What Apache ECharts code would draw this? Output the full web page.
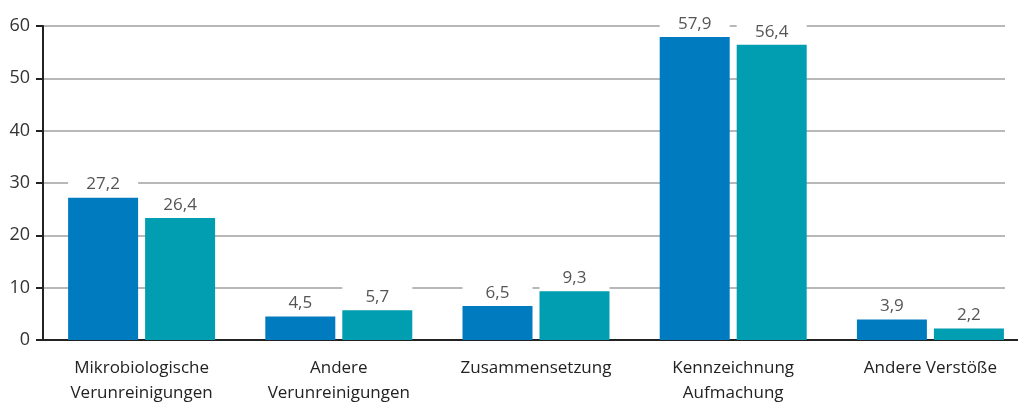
<!DOCTYPE html>
<html>
<head>
<meta charset="utf-8">
<script src="https://cdn.jsdelivr.net/npm/echarts@6/dist/echarts.min.js"></script>
<style>
  html, body { margin: 0; padding: 0; background: #fff; }
  #chart { width: 1018px; height: 403px; }
</style>
</head>
<body>
<div id="chart"></div>
<script>
// Kategorien und Werte
var categories = ['Mikrobiologische\nVerunreinigungen', 'Andere\nVerunreinigungen', 'Zusammensetzung', 'Kennzeichnung\nAufmachung', 'Andere Verstöße'];
// Balkenhöhen wie im Bild gezeichnet
var valuesA = [27.2, 4.5, 6.5, 57.9, 3.9];
var valuesB = [23.3, 5.7, 9.3, 56.4, 2.2];
// Beschriftungen über den Balken
var labelsA = ['27,2', '4,5', '6,5', '57,9', '3,9'];
var labelsB = ['26,4', '5,7', '9,3', '56,4', '2,2'];
var yTicks = [0, 10, 20, 30, 40, 50, 60];

var FONT = '"Open Sans", sans-serif';

function barLabel(texts) {
  return {
    show: true,
    position: 'top',
    distance: 1,
    formatter: function (p) { return texts[p.dataIndex]; },
    color: '#555',
    fontFamily: FONT,
    fontSize: 17,
    backgroundColor: '#fff',
    width: 70,
    height: 16,
    lineHeight: 16,
    align: 'center',
    padding: [4, 0, 4, 0]
  };
}

var chart = echarts.init(document.getElementById('chart'));
chart.setOption({
  animation: false,
  grid: { left: 43, top: 26, width: 986, height: 314, outerBoundsMode: 'none' },
  xAxis: [
    {
      type: 'category',
      data: categories,
      axisLine: { lineStyle: { color: '#222', width: 2 } },
      axisTick: {
        length: 7,
        lineStyle: { color: '#222', width: 2 },
        interval: function (i) { return i >= 2 && i <= 4; }
      },
      axisLabel: {
        interval: 0,
        margin: 16,
        color: '#222',
        fontFamily: FONT,
        fontSize: 17,
        lineHeight: 25
      }
    },
    {
      // nur der Strich unter der ersten Gruppe
      type: 'category',
      data: categories,
      position: 'bottom',
      axisLine: { show: false },
      axisLabel: { show: false },
      axisTick: {
        alignWithLabel: true,
        length: 7,
        lineStyle: { color: '#222', width: 2 },
        interval: function (i) { return i === 0; }
      }
    }
  ],
  yAxis: {
    type: 'value',
    min: 0,
    max: 60,
    interval: 10,
    axisLine: { show: true, lineStyle: { color: '#222', width: 2 } },
    axisTick: { show: true, length: 7, lineStyle: { color: '#222', width: 2 } },
    axisLabel: {
      margin: 13,
      color: '#333',
      fontFamily: FONT,
      fontSize: 18,
      padding: [0, 0, 9, 0],
      formatter: function (v) { return yTicks.indexOf(v) >= 0 ? String(v) : ''; }
    },
    splitLine: { lineStyle: { color: '#a0a0a0', width: 1.5 } }
  },
  series: [
    {
      type: 'bar',
      data: valuesA,
      barWidth: 70,
      barGap: '10%',
      itemStyle: { color: '#007bc0' },
      label: barLabel(labelsA)
    },
    {
      type: 'bar',
      data: valuesB,
      barWidth: 70,
      barGap: '10%',
      itemStyle: { color: '#009eb0' },
      label: barLabel(labelsB)
    }
  ],
  graphic: [
    {
      // Gitterlinien enden am letzten Balken
      type: 'rect',
      right: 0,
      top: 0,
      shape: { width: 13, height: 338 },
      style: { fill: '#fff' },
      z: 100
    }
  ]
});
</script>
</body>
</html>
